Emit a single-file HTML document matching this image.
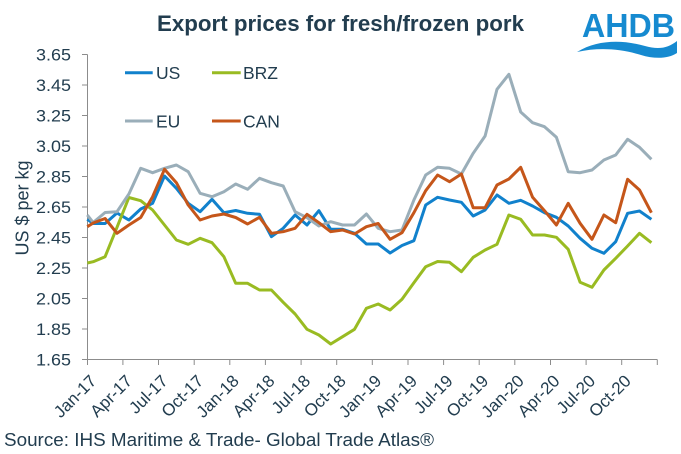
<!DOCTYPE html>
<html>
<head>
<meta charset="utf-8">
<style>
html,body{margin:0;padding:0;background:#fff;}
svg{display:block;}
text{font-family:"Liberation Sans",Arial,sans-serif;fill:#223d4f;}
</style>
</head>
<body>
<svg width="681" height="454" viewBox="0 0 681 454" xmlns="http://www.w3.org/2000/svg">
<rect width="681" height="454" fill="#fff"/>

<!-- Title -->
<text x="157" y="31" font-size="22" font-weight="bold" textLength="367" lengthAdjust="spacingAndGlyphs">Export prices for fresh/frozen pork</text>

<!-- Logo -->
<text x="582" y="37" font-size="33" textLength="93" lengthAdjust="spacingAndGlyphs" style="fill:#168ad0;font-weight:bold">AHDB</text>
<path d="M577,52 C598,39 624,40 645,46 C659,50 668,48 677,41 L677,53 C668,59 654,59 641,55 C621,49 600,47 577,52 Z" fill="#168ad0"/>

<!-- Y axis title -->
<text transform="translate(28.3,208) rotate(-90)" text-anchor="middle" font-size="18">US $ per kg</text>

<!-- Y axis -->
<g stroke="#8c8c8c" stroke-width="1" fill="none">
<line x1="87.5" y1="54.5" x2="87.5" y2="359.5"/>
<line x1="82" y1="54.5" x2="87.5" y2="54.5"/>
<line x1="82" y1="85" x2="87.5" y2="85"/>
<line x1="82" y1="115.5" x2="87.5" y2="115.5"/>
<line x1="82" y1="146" x2="87.5" y2="146"/>
<line x1="82" y1="176.5" x2="87.5" y2="176.5"/>
<line x1="82" y1="207" x2="87.5" y2="207"/>
<line x1="82" y1="237.5" x2="87.5" y2="237.5"/>
<line x1="82" y1="268" x2="87.5" y2="268"/>
<line x1="82" y1="298.5" x2="87.5" y2="298.5"/>
<line x1="82" y1="329" x2="87.5" y2="329"/>
<line x1="82" y1="359.5" x2="657.3" y2="359.5"/>
</g>
<g stroke="#8c8c8c" stroke-width="1">
<line x1="87.5" y1="359.5" x2="87.5" y2="365"/>
<line x1="122.9" y1="359.5" x2="122.9" y2="365"/>
<line x1="158.5" y1="359.5" x2="158.5" y2="365"/>
<line x1="194.2" y1="359.5" x2="194.2" y2="365"/>
<line x1="229.8" y1="359.5" x2="229.8" y2="365"/>
<line x1="265.4" y1="359.5" x2="265.4" y2="365"/>
<line x1="301.1" y1="359.5" x2="301.1" y2="365"/>
<line x1="336.7" y1="359.5" x2="336.7" y2="365"/>
<line x1="372.3" y1="359.5" x2="372.3" y2="365"/>
<line x1="408.0" y1="359.5" x2="408.0" y2="365"/>
<line x1="443.6" y1="359.5" x2="443.6" y2="365"/>
<line x1="479.2" y1="359.5" x2="479.2" y2="365"/>
<line x1="514.8" y1="359.5" x2="514.8" y2="365"/>
<line x1="550.5" y1="359.5" x2="550.5" y2="365"/>
<line x1="586.1" y1="359.5" x2="586.1" y2="365"/>
<line x1="621.7" y1="359.5" x2="621.7" y2="365"/>
<line x1="657.3" y1="359.5" x2="657.3" y2="365"/>
</g>

<!-- Y labels -->
<g font-size="17" text-anchor="end">
<text x="71" y="60.5" textLength="35" lengthAdjust="spacingAndGlyphs">3.65</text>
<text x="71" y="91" textLength="35" lengthAdjust="spacingAndGlyphs">3.45</text>
<text x="71" y="121.5" textLength="35" lengthAdjust="spacingAndGlyphs">3.25</text>
<text x="71" y="152" textLength="35" lengthAdjust="spacingAndGlyphs">3.05</text>
<text x="71" y="182.5" textLength="35" lengthAdjust="spacingAndGlyphs">2.85</text>
<text x="71" y="213" textLength="35" lengthAdjust="spacingAndGlyphs">2.65</text>
<text x="71" y="243.5" textLength="35" lengthAdjust="spacingAndGlyphs">2.45</text>
<text x="71" y="274" textLength="35" lengthAdjust="spacingAndGlyphs">2.25</text>
<text x="71" y="304.5" textLength="35" lengthAdjust="spacingAndGlyphs">2.05</text>
<text x="71" y="335" textLength="35" lengthAdjust="spacingAndGlyphs">1.85</text>
<text x="71" y="365.5" textLength="35" lengthAdjust="spacingAndGlyphs">1.65</text>
</g>

<!-- X labels -->
<g font-size="17" text-anchor="end">
<text transform="translate(97.5,382) rotate(-45)">Jan-17</text>
<text transform="translate(133.2,382) rotate(-45)">Apr-17</text>
<text transform="translate(168.8,382) rotate(-45)">Jul-17</text>
<text transform="translate(204.4,382) rotate(-45)">Oct-17</text>
<text transform="translate(240.0,382) rotate(-45)">Jan-18</text>
<text transform="translate(275.7,382) rotate(-45)">Apr-18</text>
<text transform="translate(311.3,382) rotate(-45)">Jul-18</text>
<text transform="translate(346.9,382) rotate(-45)">Oct-18</text>
<text transform="translate(382.5,382) rotate(-45)">Jan-19</text>
<text transform="translate(418.2,382) rotate(-45)">Apr-19</text>
<text transform="translate(453.8,382) rotate(-45)">Jul-19</text>
<text transform="translate(489.4,382) rotate(-45)">Oct-19</text>
<text transform="translate(525.0,382) rotate(-45)">Jan-20</text>
<text transform="translate(560.7,382) rotate(-45)">Apr-20</text>
<text transform="translate(596.3,382) rotate(-45)">Jul-20</text>
<text transform="translate(631.9,382) rotate(-45)">Oct-20</text>
</g>

<!-- Series -->
<g fill="none" stroke-width="3" stroke-linejoin="round" stroke-linecap="butt">
<polyline stroke="#1181cc" points="87.3,219.3 93.2,223.5 105.1,223.5 117.0,213 128.9,220 140.7,209 152.6,203.3 164.5,176 176.4,188.3 188.2,203.3 200.1,211.7 212.0,199.3 223.9,212.7 235.7,210.5 247.6,213.3 259.5,214.3 271.4,236.7 283.2,228.3 295.1,215 307.0,225 318.9,210.7 330.7,229.3 342.6,229.3 354.5,233.3 366.4,244 378.2,244 390.1,253 402.0,245.5 413.9,240.7 425.7,205 437.6,197.3 449.5,200 461.4,202.3 473.2,216 485.1,210 497.0,195 508.9,203.3 520.7,200.3 532.6,206 544.5,212.7 556.4,217.3 568.2,226 580.1,238.3 592.0,248.3 603.9,253.3 615.7,241.7 627.6,213.3 639.5,211 651.4,219.3"/>
<polyline stroke="#99bb22" points="87.3,263 93.2,261.7 105.1,256.7 117.0,227.3 128.9,197.5 140.7,200.7 152.6,210 164.5,225 176.4,240 188.2,244.3 200.1,238.3 212.0,242.7 223.9,256.7 235.7,283.3 247.6,283.3 259.5,290 271.4,290 283.2,302.3 295.1,314 307.0,329.3 318.9,335 330.7,344 342.6,336.7 354.5,329.3 366.4,308.3 378.2,304 390.1,310 402.0,299.3 413.9,282.7 425.7,266.7 437.6,261.5 449.5,262.3 461.4,271.7 473.2,257.3 485.1,250 497.0,244.3 508.9,215 520.7,219.3 532.6,235 544.5,235 556.4,237.3 568.2,249.3 580.1,282.3 592.0,287.3 603.9,270 615.7,258.3 627.6,246 639.5,233.3 651.4,242.7"/>
<polyline stroke="#9aaeb9" points="87.3,215 93.2,222.5 105.1,212.5 117.0,211.7 128.9,194 140.7,168.3 152.6,172.7 164.5,168.3 176.4,165 188.2,171.7 200.1,193.3 212.0,196.7 223.9,191.7 235.7,184 247.6,189.3 259.5,178.3 271.4,182.7 283.2,186 295.1,211.7 307.0,217.7 318.9,226 330.7,221.7 342.6,225 354.5,225 366.4,214 378.2,228.3 390.1,231.7 402.0,230 413.9,200 425.7,175 437.6,167.3 449.5,168.3 461.4,174 473.2,153.3 485.1,136 497.0,89.3 508.9,74.3 520.7,112 532.6,122.7 544.5,126.7 556.4,137.3 568.2,171.7 580.1,172.7 592.0,170 603.9,160 615.7,155 627.6,139.3 639.5,147.3 651.4,159.3"/>
<polyline stroke="#c5561a" points="87.3,226.7 93.2,223 105.1,218.5 117.0,233.3 128.9,225 140.7,217.5 152.6,196.7 164.5,169.3 176.4,182.7 188.2,205 200.1,220 212.0,216 223.9,214 235.7,217.5 247.6,224 259.5,217.3 271.4,233.3 283.2,231.7 295.1,228.3 307.0,214.3 318.9,222.7 330.7,231.7 342.6,230 354.5,234 366.4,226.7 378.2,223.5 390.1,239.3 402.0,232.7 413.9,212.7 425.7,190.7 437.6,175 449.5,181.7 461.4,174 473.2,207.7 485.1,207.7 497.0,185 508.9,179 520.7,167.3 532.6,197.3 544.5,210.7 556.4,225 568.2,203.3 580.1,223.3 592.0,239.3 603.9,215 615.7,222.7 627.6,179.3 639.5,190 651.4,212.7"/>
</g>

<!-- Legend -->
<g stroke-width="3">
<line x1="125" y1="72.7" x2="152.7" y2="72.7" stroke="#1181cc"/>
<line x1="212" y1="72.7" x2="240.7" y2="72.7" stroke="#99bb22"/>
<line x1="125" y1="121" x2="152.7" y2="121" stroke="#9aaeb9"/>
<line x1="212" y1="121" x2="240.7" y2="121" stroke="#c5561a"/>
</g>
<g font-size="17.5">
<text x="156" y="79">US</text>
<text x="243" y="79">BRZ</text>
<text x="156" y="127.5">EU</text>
<text x="243" y="127.5">CAN</text>
</g>

<!-- Source -->
<text x="4" y="446" font-size="18.5" textLength="430" lengthAdjust="spacingAndGlyphs">Source: IHS Maritime &amp; Trade- Global Trade Atlas®</text>
</svg>
</body>
</html>
